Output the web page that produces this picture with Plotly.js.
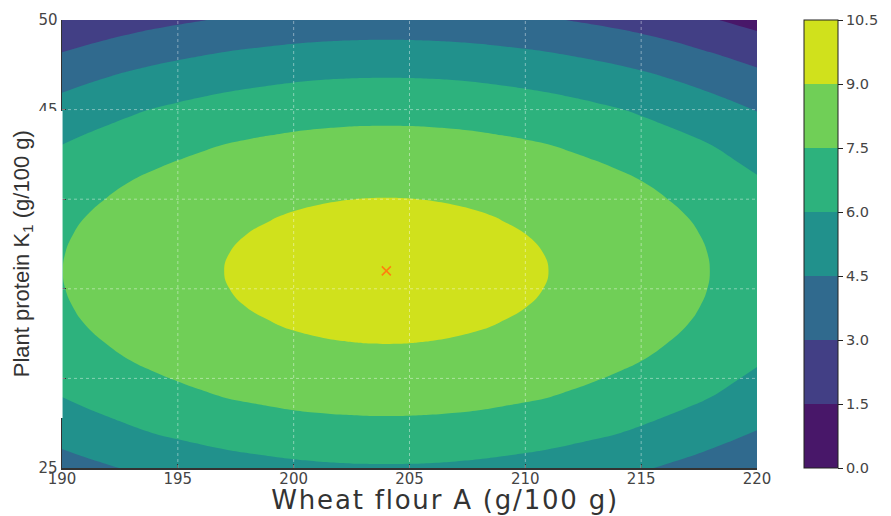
<!DOCTYPE html>
<html>
<head>
<meta charset="utf-8">
<script src="https://cdn.plot.ly/plotly-3.0.1.min.js"></script>
<style>
html,body{margin:0;padding:0;background:#ffffff;}
#chart{width:891px;height:516px;}
#chart g.annotation[data-index="1"] text{letter-spacing:1.8px;}
</style>
</head>
<body>
<div id="chart"></div>
<script>
// ---- data ----
const wheatFlourA = [190,191,192,193,194,195,196,197,198,199,200,201,202,203,204,205,206,207,208,209,210,211,212,213,214,215,216,217,218,219,220];
const plantProteinK1 = [25,27,29,31,32,33,34,35,36,37,38,39,40,41,43,45,47,49,50];
// estimated response value at each grid node; one array per plant-protein level
const score_y25 = [3.86,4.14,4.39,4.63,4.85,5.04,5.21,5.37,5.50,5.61,5.71,5.78,5.83,5.86,5.87,5.86,5.83,5.78,5.71,5.61,5.50,5.37,5.21,5.04,4.85,4.63,4.39,4.14,3.86,3.56,3.25];
const score_y27 = [5.06,5.34,5.59,5.83,6.05,6.24,6.41,6.57,6.70,6.81,6.91,6.98,7.03,7.06,7.07,7.06,7.03,6.98,6.91,6.81,6.70,6.57,6.41,6.24,6.05,5.83,5.59,5.34,5.06,4.76,4.45];
const score_y29 = [6.02,6.30,6.55,6.79,7.01,7.20,7.37,7.53,7.66,7.77,7.87,7.94,7.99,8.02,8.03,8.02,7.99,7.94,7.87,7.77,7.66,7.53,7.37,7.20,7.01,6.79,6.55,6.30,6.02,5.72,5.41];
const score_y31 = [6.74,7.02,7.27,7.51,7.73,7.92,8.09,8.25,8.38,8.49,8.59,8.66,8.71,8.74,8.75,8.74,8.71,8.66,8.59,8.49,8.38,8.25,8.09,7.92,7.73,7.51,7.27,7.02,6.74,6.44,6.13];
const score_y32 = [7.01,7.29,7.54,7.78,8.00,8.19,8.36,8.52,8.65,8.76,8.86,8.93,8.98,9.01,9.02,9.01,8.98,8.93,8.86,8.76,8.65,8.52,8.36,8.19,8.00,7.78,7.54,7.29,7.01,6.71,6.40];
const score_y33 = [7.22,7.50,7.75,7.99,8.21,8.40,8.57,8.73,8.86,8.97,9.07,9.14,9.19,9.22,9.23,9.22,9.19,9.14,9.07,8.97,8.86,8.73,8.57,8.40,8.21,7.99,7.75,7.50,7.22,6.92,6.61];
const score_y34 = [7.37,7.65,7.90,8.14,8.36,8.55,8.72,8.88,9.01,9.12,9.22,9.29,9.34,9.37,9.38,9.37,9.34,9.29,9.22,9.12,9.01,8.88,8.72,8.55,8.36,8.14,7.90,7.65,7.37,7.07,6.76];
const score_y35 = [7.46,7.74,7.99,8.23,8.45,8.64,8.81,8.97,9.10,9.21,9.31,9.38,9.43,9.46,9.47,9.46,9.43,9.38,9.31,9.21,9.10,8.97,8.81,8.64,8.45,8.23,7.99,7.74,7.46,7.16,6.85];
const score_y36 = [7.49,7.77,8.02,8.26,8.48,8.67,8.84,9.00,9.13,9.24,9.34,9.41,9.46,9.49,9.50,9.49,9.46,9.41,9.34,9.24,9.13,9.00,8.84,8.67,8.48,8.26,8.02,7.77,7.49,7.19,6.88];
const score_y37 = [7.46,7.74,7.99,8.23,8.45,8.64,8.81,8.97,9.10,9.21,9.31,9.38,9.43,9.46,9.47,9.46,9.43,9.38,9.31,9.21,9.10,8.97,8.81,8.64,8.45,8.23,7.99,7.74,7.46,7.16,6.85];
const score_y38 = [7.37,7.65,7.90,8.14,8.36,8.55,8.72,8.88,9.01,9.12,9.22,9.29,9.34,9.37,9.38,9.37,9.34,9.29,9.22,9.12,9.01,8.88,8.72,8.55,8.36,8.14,7.90,7.65,7.37,7.07,6.76];
const score_y39 = [7.22,7.50,7.75,7.99,8.21,8.40,8.57,8.73,8.86,8.97,9.07,9.14,9.19,9.22,9.23,9.22,9.19,9.14,9.07,8.97,8.86,8.73,8.57,8.40,8.21,7.99,7.75,7.50,7.22,6.92,6.61];
const score_y40 = [7.01,7.29,7.54,7.78,8.00,8.19,8.36,8.52,8.65,8.76,8.86,8.93,8.98,9.01,9.02,9.01,8.98,8.93,8.86,8.76,8.65,8.52,8.36,8.19,8.00,7.78,7.54,7.29,7.01,6.71,6.40];
const score_y41 = [6.74,7.02,7.27,7.51,7.73,7.92,8.09,8.25,8.38,8.49,8.59,8.66,8.71,8.74,8.75,8.74,8.71,8.66,8.59,8.49,8.38,8.25,8.09,7.92,7.73,7.51,7.27,7.02,6.74,6.44,6.13];
const score_y43 = [6.02,6.30,6.55,6.79,7.01,7.20,7.37,7.53,7.66,7.77,7.87,7.94,7.99,8.02,8.03,8.02,7.99,7.94,7.87,7.77,7.66,7.53,7.37,7.20,7.01,6.79,6.55,6.30,6.02,5.72,5.41];
const score_y45 = [5.06,5.34,5.59,5.83,6.05,6.24,6.41,6.57,6.70,6.81,6.91,6.98,7.03,7.06,7.07,7.06,7.03,6.98,6.91,6.81,6.70,6.57,6.41,6.24,6.05,5.83,5.59,5.34,5.06,4.76,4.45];
const score_y47 = [3.86,4.14,4.39,4.63,4.85,5.04,5.21,5.37,5.50,5.61,5.71,5.78,5.83,5.86,5.87,5.86,5.83,5.78,5.71,5.61,5.50,5.37,5.21,5.04,4.85,4.63,4.39,4.14,3.86,3.56,3.25];
const score_y49 = [2.42,2.70,2.95,3.19,3.41,3.60,3.77,3.93,4.06,4.17,4.27,4.34,4.39,4.42,4.43,4.42,4.39,4.34,4.27,4.17,4.06,3.93,3.77,3.60,3.41,3.19,2.95,2.70,2.42,2.12,1.81];
const score_y50 = [1.61,1.89,2.14,2.38,2.60,2.79,2.96,3.12,3.25,3.36,3.46,3.53,3.58,3.61,3.62,3.61,3.58,3.53,3.46,3.36,3.25,3.12,2.96,2.79,2.60,2.38,2.14,1.89,1.61,1.31,1.00];
const optimumX = [204];
const optimumY = [36];
const levelTicks = [0,1.5,3,4.5,6,7.5,9,10.5];
const xTicks = [190,195,200,205,210,215,220];
const yTicks = [25,30,35,40,45,50];
const bandColors = ['#481769','#423f85','#306a8e','#21918c','#2db27d','#70cf57','#d0e11c'];
const xTitle = 'Wheat flour A (g/100 g)';
const yTitle = 'Plant protein K<sub>1</sub> (g/100 g)';

// ---- build library inputs ----
const scoreGrid = [score_y25,score_y27,score_y29,score_y31,score_y32,score_y33,score_y34,score_y35,score_y36,
  score_y37,score_y38,score_y39,score_y40,score_y41,score_y43,score_y45,score_y47,score_y49,score_y50];
const nBands = bandColors.length;
const stepScale = [];
bandColors.forEach((c,i)=>{ stepScale.push([i/nBands,c]); stepScale.push([(i+1)/nBands,c]); });

const gridColor = 'rgba(255,255,255,0.42)';
const shapes = [];
xTicks.slice(1,-1).forEach(v=>shapes.push({type:'line',xref:'x',yref:'paper',x0:v,x1:v,y0:0,y1:1,
  line:{color:gridColor,width:1,dash:'3px,3px'},layer:'above'}));
yTicks.slice(1,-1).forEach(v=>shapes.push({type:'line',xref:'paper',yref:'y',x0:0,x1:1,y0:v,y1:v,
  line:{color:gridColor,width:1,dash:'3px,3px'},layer:'above'}));
// white panel behind the rotated y title (hides the middle y tick labels as in the reference)
shapes.push({type:'rect',xref:'paper',yref:'paper',x0:-0.1,x1:0.0008,y0:0.1116,y1:0.797,
  fillcolor:'#ffffff',line:{width:0},layer:'above'});

const tickFont = {family:'DejaVu Sans, sans-serif', size:15, color:'#444'};

const traces = [
  {
    type:'contour', x:wheatFlourA, y:plantProteinK1, z:scoreGrid,
    zmin:0, zmax:10.5, autocontour:false,
    contours:{start:0,end:10.5,size:1.5,coloring:'fill',showlines:false},
    line:{smoothing:1.3,width:0},
    colorscale:stepScale,
    hoverinfo:'skip',
    colorbar:{
      x:1.067, xanchor:'left', y:0.5, yanchor:'middle',
      len:1, lenmode:'fraction', thickness:34, thicknessmode:'pixels',
      xpad:0, ypad:0, outlinewidth:1, outlinecolor:'#222',
      tickmode:'array', tickvals:levelTicks, ticktext:levelTicks.map(v=>v.toFixed(1)),
      ticks:'outside', ticklen:5, tickcolor:'#222',
      tickfont:{family:'DejaVu Sans, sans-serif', size:14.5, color:'#444'}
    }
  },
  {
    type:'scatter', mode:'markers', x:optimumX, y:optimumY, showlegend:false, hoverinfo:'skip',
    marker:{symbol:'x-thin', size:9, color:'#ff7f0e', line:{color:'#ff7f0e', width:1.6}}
  }
];

const layout = {
  width:891, height:516,
  margin:{l:62, r:128, t:20, b:48, pad:0},
  paper_bgcolor:'#ffffff', plot_bgcolor:'#ffffff',
  showlegend:false,
  xaxis:{range:[190,220], tickmode:'array', tickvals:xTicks, ticks:'inside', ticklen:4, tickcolor:'#333',
    showline:true, linecolor:'#333', linewidth:1.5, showgrid:false, zeroline:false, layer:'above traces',
    tickfont:tickFont, automargin:false, ticklabelstandoff:-4},
  yaxis:{range:[25,50], tickmode:'array', tickvals:yTicks, ticks:'inside', ticklen:4, tickcolor:'#333',
    showline:true, linecolor:'#333', linewidth:1.5, showgrid:false, zeroline:false, layer:'above traces',
    tickfont:tickFont, automargin:false, ticklabelstandoff:0},
  shapes:shapes,
  annotations:[
    {xref:'paper', yref:'paper', x:-0.057, y:0.478, xanchor:'center', yanchor:'middle',
     text:yTitle, textangle:-90, showarrow:false,
     font:{family:'Liberation Sans, Arial, sans-serif', size:22, color:'#333'}},
    {xref:'paper', yref:'paper', x:0.5506, y:-0.071, xanchor:'center', yanchor:'middle',
     text:xTitle, showarrow:false,
     font:{family:'DejaVu Sans, sans-serif', size:26, color:'#333'}}
  ]
};

Plotly.newPlot('chart', traces, layout, {displayModeBar:false, staticPlot:true});
</script>
</body>
</html>
